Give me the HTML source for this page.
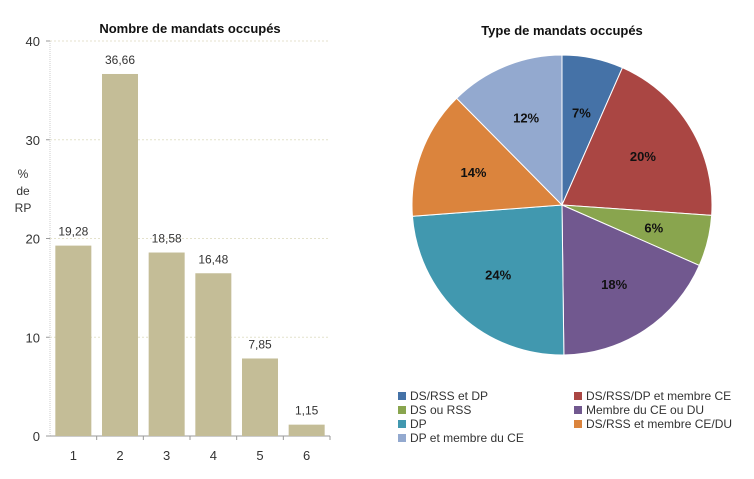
<!DOCTYPE html>
<html><head><meta charset="utf-8"><style>
body{margin:0;background:#fff;font-family:"Liberation Sans",sans-serif}
svg text{font-family:"Liberation Sans",sans-serif}
</style></head><body>
<svg width="754" height="474">
<g id="bar"></g><g id="pie"></g>
</svg>
<script>
const barCats=["1","2","3","4","5","6"];
const barVals=[19.28,36.66,18.58,16.48,7.85,1.15];
const barLabels=["19,28","36,66","18,58","16,48","7,85","1,15"];
const yTicks=[0,10,20,30,40];
const pieCats=["DS/RSS et DP","DS/RSS/DP et membre CE","DS ou RSS","Membre du CE ou DU","DP","DS/RSS et membre CE/DU","DP et membre du CE"];
const pieVals=[6.6,19.5,5.5,18.2,24.0,13.8,12.4];
const pieColors=["#4572a7","#aa4643","#89a54e","#71588f","#4198af","#db843d","#93a9cf"];
const NS="http://www.w3.org/2000/svg";
function mk(p,t,a,txt){const e=document.createElementNS(NS,t);for(const k in a)e.setAttribute(k,a[k]);if(txt!==undefined)e.textContent=txt;p.appendChild(e);return e;}
const bg=document.getElementById('bar');
const x0=50,x1=330,yb=436,yt=41;
const y=v=>yb-(v/40)*(yb-yt);
const step=(x1-x0)/barCats.length;
let t=mk(bg,'text',{x:190,y:33,'text-anchor':'middle','font-size':13,'font-weight':'bold',fill:'#111'},'Nombre de mandats occupés');

yTicks.forEach(v=>{
 if(v>0){const g=mk(bg,'line',{x1:x0,x2:x1,y1:y(v),y2:y(v),stroke:'#e4e2cc','stroke-dasharray':'2,2'});}
 const l=mk(bg,'text',{x:40,y:y(v)+5,'text-anchor':'end','font-size':13,fill:'#333'},String(v));
 
 mk(bg,'line',{x1:x0-4,x2:x0,y1:y(v),y2:y(v),stroke:'#999'});
});
mk(bg,'line',{x1:x0,x2:x0,y1:yt,y2:yb,stroke:'#ccc','stroke-dasharray':'1,1'});
mk(bg,'line',{x1:x0,x2:x1,y1:yb,y2:yb,stroke:'#999'});
['%','de','RP'].forEach((s,i)=>{const e=mk(bg,'text',{x:23,y:178+i*17,'text-anchor':'middle','font-size':12,fill:'#333'},s);});
barCats.forEach((c,i)=>{
 const cx=x0+step*(i+0.5);
 mk(bg,'line',{x1:x0+step*(i+1),x2:x0+step*(i+1),y1:yb,y2:yb+4,stroke:'#999'});
 const r=mk(bg,'rect',{x:cx-18,y:y(barVals[i]),width:36,height:yb-y(barVals[i]),fill:'#c4bd97'});
 
 const v=mk(bg,'text',{x:cx,y:y(barVals[i])-10,'text-anchor':'middle','font-size':12,fill:'#333'},barLabels[i]);
 
 const xl=mk(bg,'text',{x:cx,y:460,'text-anchor':'middle','font-size':13,fill:'#333'},c);
 
});
const pg=document.getElementById('pie');
t=mk(pg,'text',{x:562,y:35,'text-anchor':'middle','font-size':13,'font-weight':'bold',fill:'#111'},'Type de mandats occupés');

const cx=562,cy=205,R=150;const tot=pieVals.reduce((a,b)=>a+b,0);
let acc=0;
pieVals.forEach((v,i)=>{
 const a0=acc/tot*2*Math.PI;acc+=v;const a1=acc/tot*2*Math.PI;
 const p=(a)=>[cx+R*Math.sin(a),cy-R*Math.cos(a)];
 const [sx,sy]=p(a0),[ex,ey]=p(a1);
 const s=mk(pg,'path',{d:`M${cx},${cy}L${sx},${sy}A${R},${R} 0 ${a1-a0>Math.PI?1:0} 1 ${ex},${ey}Z`,fill:pieColors[i],stroke:'#fff','stroke-width':1});
 
 const am=(a0+a1)/2;
 const l=mk(pg,'text',{x:cx+R*0.63*Math.sin(am),y:cy-R*0.63*Math.cos(am)+5,'text-anchor':'middle','font-size':13,'font-weight':'bold',fill:'#111'},Math.round(v/tot*100)+'%');
 
 const col=i%2,row=Math.floor(i/2);
 const lx=col?574:398,ly=396+row*14;
 const sw=mk(pg,'rect',{x:lx,y:ly-4,width:8,height:8,fill:pieColors[i]});
 
 const lt=mk(pg,'text',{x:lx+12,y:ly+4,'font-size':12,fill:'#333'},pieCats[i]);
 
});
</script>
</body></html>
